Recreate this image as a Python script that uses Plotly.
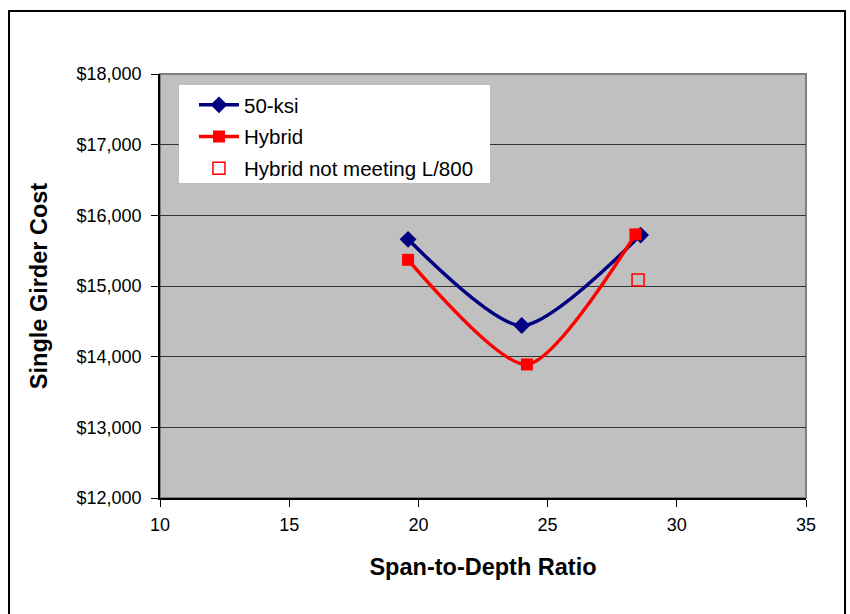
import plotly.graph_objects as go

# Span-to-depth ratio vs. single girder cost
ksi50_ratio = [19.6, 24.0, 28.6]
ksi50_cost = [15660, 14440, 15720]

hybrid_ratio = [19.6, 24.2, 28.4]
hybrid_cost = [15370, 13890, 15730]

hybrid_fail_ratio = [28.5]
hybrid_fail_cost = [15085]

x_ticks = [10, 15, 20, 25, 30, 35]
y_ticks = [12000, 13000, 14000, 15000, 16000, 17000, 18000]
y_tick_text = ["$12,000", "$13,000", "$14,000", "$15,000", "$16,000", "$17,000", "$18,000"]

FONT = "Liberation Sans, Arial, sans-serif"

fig = go.Figure()
fig.add_trace(go.Scatter(
    x=ksi50_ratio, y=ksi50_cost, name="50-ksi", mode="lines+markers",
    legendgroup="a",
    line=dict(color="#000080", width=3.5, shape="spline", smoothing=0.7),
    marker=dict(symbol="diamond", size=13, color="#000080"),
))
fig.add_trace(go.Scatter(
    x=hybrid_ratio, y=hybrid_cost, name="Hybrid", mode="lines+markers",
    legendgroup="b",
    line=dict(color="#FF0000", width=3.5, shape="spline", smoothing=0.7),
    marker=dict(symbol="square", size=12, color="#FF0000"),
))
fig.add_trace(go.Scatter(
    x=hybrid_fail_ratio, y=hybrid_fail_cost, name="Hybrid not meeting L/800",
    mode="markers", legendgroup="c",
    marker=dict(symbol="square-open", size=12, color="#FF0000", line=dict(width=1.5)),
))

# outer frame around the whole chart
fig.add_shape(type="rect", xref="paper", yref="paper",
              x0=-0.2337, x1=1.0604, y0=-0.30, y1=1.1486,
              line=dict(color="black", width=2), layer="below")
# plot area border (top / right)
fig.add_shape(type="rect", xref="paper", yref="paper",
              x0=0, x1=1, y0=0, y1=1,
              line=dict(color="#808080", width=2), layer="below")
# white legend panel
fig.add_shape(type="rect", xref="paper", yref="paper",
              x0=0.0294, x1=0.5108, y0=0.743, y1=0.974,
              fillcolor="white", line=dict(width=0), layer="above")

fig.update_layout(
    width=850, height=614,
    margin=dict(l=160, r=44, t=74, b=116),
    paper_bgcolor="white",
    plot_bgcolor="#C0C0C0",
    font=dict(family=FONT, size=18, color="black"),
    showlegend=True,
    legend=dict(
        x=0.0526, y=0.974, xanchor="left", yanchor="top",
        bgcolor="rgba(0,0,0,0)", borderwidth=0,
        font=dict(family=FONT, size=20.5, color="black"),
        itemwidth=40, tracegroupgap=2,
    ),
    xaxis=dict(
        range=[10, 35], tickmode="array", tickvals=x_ticks,
        showgrid=False, zeroline=False,
        showline=True, linecolor="black", linewidth=1.5,
        ticks="outside", ticklen=7, tickcolor="black",
        ticklabelstandoff=3,
        tickfont=dict(family=FONT, size=18),
        title=dict(text="<b>Span-to-Depth Ratio</b>", standoff=24,
                   font=dict(family=FONT, size=23.5)),
    ),
    yaxis=dict(
        range=[12000, 18000], tickmode="array", tickvals=y_ticks,
        ticktext=y_tick_text,
        showgrid=True, gridcolor="#333333", gridwidth=1,
        zeroline=False,
        showline=True, linecolor="black", linewidth=1.5,
        ticks="outside", ticklen=7, tickcolor="black",
        ticklabelstandoff=6,
        tickfont=dict(family=FONT, size=18),
        title=dict(text="<b>Single Girder Cost</b>", standoff=22,
                   font=dict(family=FONT, size=23.5)),
    ),
)

fig.write_html("out.html")
